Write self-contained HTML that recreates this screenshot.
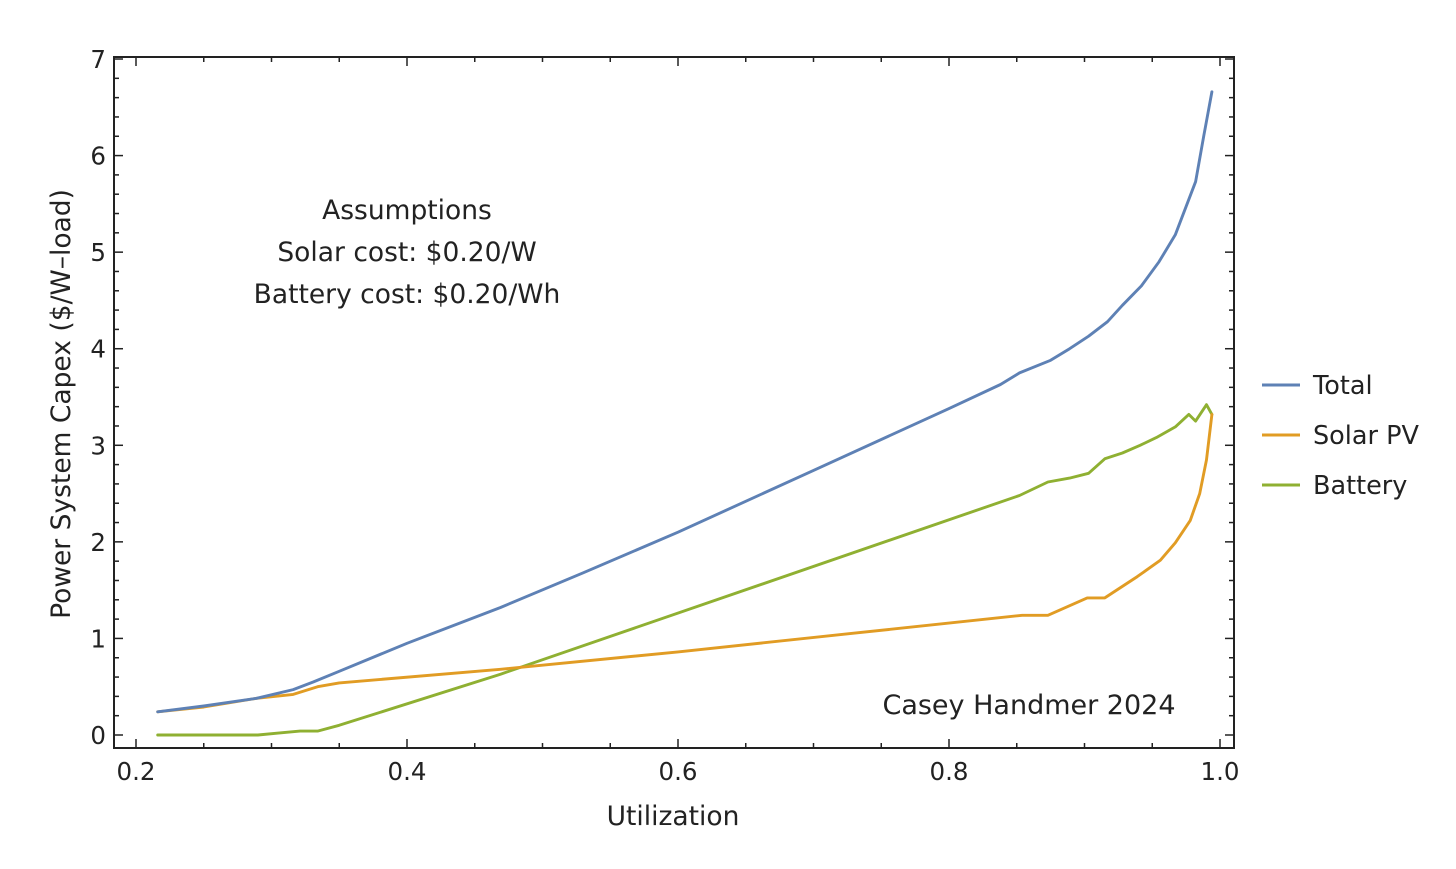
<!DOCTYPE html>
<html><head><meta charset="utf-8"><style>
body{margin:0;background:#fff;}
svg text{font-family:"DejaVu Sans","Liberation Sans",sans-serif;fill:#222;}
</style></head><body>
<svg id="chart" width="1456" height="864" xmlns="http://www.w3.org/2000/svg">
<rect width="1456" height="864" fill="#fff"/>
<g id="ticks"></g>
<g id="series"></g>
<rect x="114" y="57" width="1120" height="691" fill="none" stroke="#222" stroke-width="2"/>
<text x="673" y="825" font-size="26.5" text-anchor="middle">Utilization</text>
<text transform="translate(70,404) rotate(-90)" font-size="26.5" text-anchor="middle">Power System Capex ($/W–load)</text>
<g font-size="26.5" text-anchor="middle">
<text x="407" y="219">Assumptions</text>
<text x="407" y="261">Solar cost: $0.20/W</text>
<text x="407" y="303">Battery cost: $0.20/Wh</text>
</g>
<text x="1029" y="714" font-size="27" text-anchor="middle">Casey Handmer 2024</text>
<g id="legend"></g>
</svg>
<script>
const xTicks=[0.2,0.4,0.6,0.8,1.0];
const xTickLabels=["0.2","0.4","0.6","0.8","1.0"];
const yTicks=[0,1,2,3,4,5,6,7];
const yTickLabels=["0","1","2","3","4","5","6","7"];
const seriesNames=["Total","Solar PV","Battery"];
const totalX=[0.216,0.25,0.289,0.316,0.331,0.35,0.40,0.469,0.53,0.60,0.70,0.80,0.838,0.852,0.875,0.889,0.903,0.917,0.928,0.942,0.955,0.967,0.982,0.988,0.994];
const totalY=[0.24,0.30,0.38,0.47,0.55,0.66,0.95,1.32,1.68,2.10,2.74,3.38,3.63,3.75,3.88,4.00,4.13,4.28,4.45,4.65,4.90,5.18,5.73,6.20,6.66];
const solarX=[0.216,0.25,0.289,0.316,0.334,0.35,0.469,0.60,0.727,0.854,0.873,0.902,0.915,0.939,0.956,0.967,0.978,0.985,0.990,0.994];
const solarY=[0.24,0.29,0.38,0.42,0.50,0.54,0.68,0.86,1.05,1.24,1.24,1.42,1.42,1.64,1.81,1.99,2.22,2.50,2.85,3.32];
const batteryX=[0.216,0.29,0.305,0.321,0.334,0.35,0.469,0.852,0.873,0.889,0.903,0.915,0.928,0.941,0.953,0.967,0.977,0.982,0.990,0.994];
const batteryY=[0,0,0.02,0.04,0.04,0.10,0.63,2.48,2.62,2.66,2.71,2.86,2.92,3.00,3.08,3.19,3.32,3.25,3.42,3.32];
const colors=["#5e81b5","#e19c24","#8fb032"];
const NS="http://www.w3.org/2000/svg";
function X(v){return 136+(v-0.2)*1355;}
function Y(v){return 735-v*96.57;}
function mk(t,a,p){const e=document.createElementNS(NS,t);for(const k in a)e.setAttribute(k,a[k]);p.appendChild(e);return e;}
const tg=document.getElementById('ticks');
for(let i=0;i<=16;i++){const v=0.2+i*0.05;const maj=i%4===0;const x=X(v);const L=maj?9:5;
 const t1=mk('line',{x1:x,x2:x,y1:748,y2:748-L,stroke:'#222','stroke-width':1.5},tg);
 
 
 mk('line',{x1:x,x2:x,y1:57,y2:57+L,stroke:'#222','stroke-width':1.5},tg);}
for(let i=0;i<=35;i++){const v=i*0.2;const maj=i%5===0;const y=Y(v);const L=maj?9:5;
 const t1=mk('line',{x1:114,x2:114+L,y1:y,y2:y,stroke:'#222','stroke-width':1.5},tg);
 
 
 mk('line',{x1:1234,x2:1234-L,y1:y,y2:y,stroke:'#222','stroke-width':1.5},tg);}
xTicks.forEach((v,i)=>{const t=mk('text',{x:X(v),y:780,'font-size':24.5,'text-anchor':'middle'},tg);t.textContent=xTickLabels[i];
 
 });
yTicks.forEach((v,i)=>{const t=mk('text',{x:106,y:Y(v)+9,'font-size':24.5,'text-anchor':'end'},tg);t.textContent=yTickLabels[i];
 
 });
const sg=document.getElementById('series');
const data=[[totalX,totalY],[solarX,solarY],[batteryX,batteryY]];
const order=[2,1,0];
order.forEach(s=>{const [xs,ys]=data[s];
 const d=xs.map((x,i)=>(i?'L':'M')+X(x).toFixed(1)+' '+Y(ys[i]).toFixed(1)).join(' ');
 const p=mk('path',{d:d,fill:'none',stroke:colors[s],'stroke-width':2.9,'stroke-linejoin':'round','stroke-linecap':'round'},sg);
 
 });
const lg=document.getElementById('legend');
seriesNames.forEach((n,i)=>{const y=385+i*50;
 const g=mk('g',{},lg);
 
 
 mk('line',{x1:1262,x2:1300,y1:y,y2:y,stroke:colors[i],'stroke-width':2.9},g);
 const t=mk('text',{x:1313,y:y+9,'font-size':25.5},g);t.textContent=n;});
</script>
</body></html>
